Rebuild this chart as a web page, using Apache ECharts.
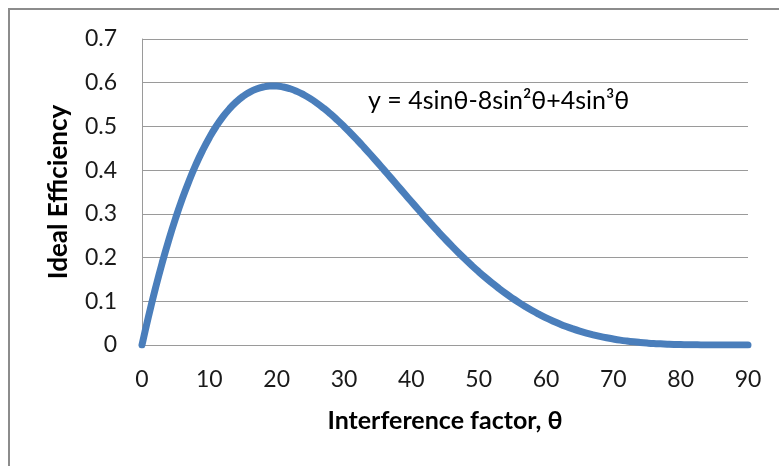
<!DOCTYPE html>
<html><head><meta charset="utf-8">
<script src="https://cdn.jsdelivr.net/npm/echarts@6/dist/echarts.min.js"></script>
<style>html,body{margin:0;padding:0;background:#fff}#c{width:779px;height:466px}</style>
</head><body><div id="c"></div>
<script>
const thetaDeg = [0,1,2,3,4,5,6,7,8,9,10,11,12,13,14,15,16,17,18,19,20,21,22,23,24,25,26,27,28,29,30,31,32,33,34,35,36,37,38,39,40,41,42,43,44,45,46,47,48,49,50,51,52,53,54,55,56,57,58,59,60,61,62,63,64,65,66,67,68,69,70,71,72,73,74,75,76,77,78,79,80,81,82,83,84,85,86,87,88,89,90];
const efficiency = [0,0.0674,0.1300,0.1880,0.2415,0.2905,0.3353,0.3759,0.4125,0.4453,0.4743,0.4998,0.5218,0.5405,0.5561,0.5687,0.5785,0.5856,0.5902,0.5924,0.5923,0.5902,0.5861,0.5802,0.5726,0.5636,0.5531,0.5414,0.5286,0.5147,0.5000,0.4845,0.4684,0.4517,0.4346,0.4172,0.3995,0.3817,0.3638,0.3459,0.3281,0.3105,0.2930,0.2759,0.2591,0.2427,0.2267,0.2111,0.1961,0.1816,0.1677,0.1544,0.1417,0.1295,0.1180,0.1072,0.0969,0.0873,0.0783,0.0700,0.0622,0.0550,0.0484,0.0423,0.0368,0.0318,0.0273,0.0233,0.0197,0.0165,0.0137,0.0112,0.0091,0.0073,0.0058,0.0045,0.0034,0.0026,0.0019,0.0013,0.0009,0.0006,0.0004,0.0002,0.0001,0.0001,0,0,0,0,0];
const xTitle = 'Interference factor, θ';
const yTitle = 'Ideal Efficiency';
const equation = 'y = 4sinθ-8sin²θ+4sin³θ';

const FONT = 'Lato, "Open Sans", sans-serif';
const chart = echarts.init(document.getElementById('c'));
chart.setOption({
  animation: false,
  backgroundColor: '#fff',
  grid: {left: 142, top: 39, right: 31, bottom: 121},
  xAxis: {
    type: 'value', min: 0, max: 90, interval: 10,
    name: xTitle, nameLocation: 'middle', nameGap: 63,
    nameTextStyle: {fontFamily: FONT, fontSize: 25, fontWeight: 'bold', color: '#000'},
    axisLine: {show: true, lineStyle: {color: '#9a9a9a', width: 1}},
    axisTick: {show: false},
    splitLine: {show: false},
    axisLabel: {fontFamily: FONT, fontSize: 23, color: '#1a1a1a', margin: 23}
  },
  yAxis: {
    type: 'value', min: 0, max: 0.7, interval: 0.1,
    name: yTitle, nameLocation: 'middle', nameGap: 70,
    nameTextStyle: {fontFamily: FONT, fontSize: 26, fontWeight: 'bold', color: '#000'},
    axisLine: {show: true, lineStyle: {color: '#9a9a9a', width: 1}},
    axisTick: {show: false},
    splitLine: {show: true, lineStyle: {color: '#9a9a9a', width: 1}},
    axisLabel: {fontFamily: FONT, fontSize: 23, color: '#1a1a1a', margin: 25,
      formatter: v => (Math.round(v*10)/10).toString()}
  },
  series: [{
    type: 'line',
    data: thetaDeg.map((t, i) => [t, efficiency[i]]),
    smooth: true,
    showSymbol: false,
    lineStyle: {color: '#4a7ebb', width: 7, cap: 'round', join: 'round'}
  }],
  graphic: [
    {type: 'rect', shape: {x: 9, y: 9, width: 800, height: 500}, style: {fill: 'none', stroke: '#8c8c8c', lineWidth: 2}, z: -1},
    {type: 'text', left: 368, top: 88, style: {text: equation, fontFamily: FONT, fontSize: 25, fill: '#000'}}
  ]
});
</script></body></html>
